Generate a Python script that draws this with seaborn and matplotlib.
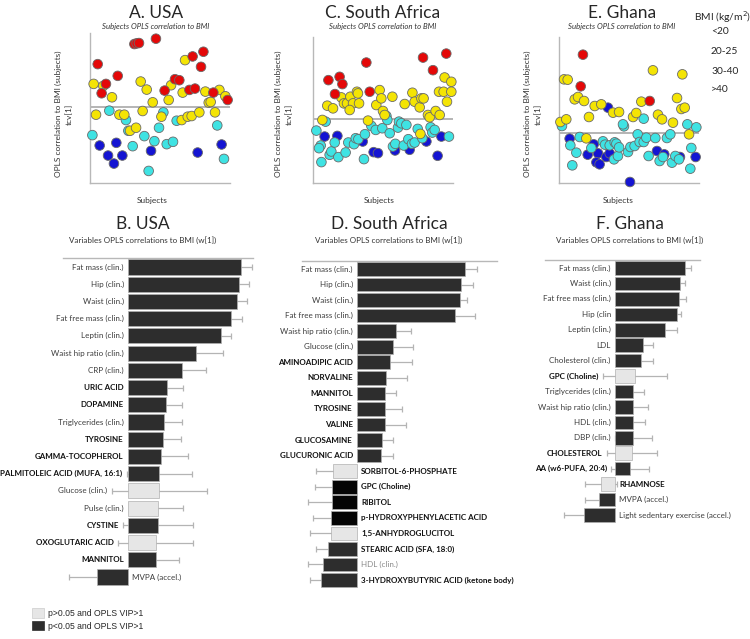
import matplotlib
matplotlib.use("Agg")
import matplotlib.pyplot as plt
from matplotlib.patches import Patch
import pandas as pd
import seaborn as sns

W, H = 750, 639

# ---- top panels: subject scores (x = subject position, y = tcv[1]) ----
usa_red_x = [5.5, 8.3, 11.4, 19.8, 31.7, 33.3, 35.0, 47.1, 53.3, 60.7, 63.8, 71.0, 73.3, 75.0, 79.3, 81.0, 88.1, 98.3]
usa_red_y = [1.29, 0.42, 0.70, 0.94, 1.89, 1.91, 1.92, 2.05, 0.50, 0.84, 0.81, 0.52, 1.52, 0.56, 1.21, 1.66, 0.44, 0.22]
usa_yel_x = [2.6, 4.3, 9.5, 15.7, 21.0, 24.5, 28.6, 32.9, 36.2, 37.6, 40.5, 44.8, 51.0, 56.2, 57.9, 65.5, 66.2, 67.9,
             69.8, 72.6, 78.1, 82.4, 84.8, 86.2, 89.3, 92.4, 96.7]
usa_yel_y = [0.70, -0.22, 0.64, 0.30, -0.22, -0.22, -0.70, -0.61, 0.77, -0.11, 0.53, 0.15, -0.28, 0.22, 0.66, -0.38,
             0.44, 1.41, -0.28, -0.26, -0.15, 0.47, 0.14, 0.16, -0.15, 0.52, 0.33]
usa_cyan_x = [1.7, 13.8, 25.7, 27.4, 30.5, 38.8, 41.9, 46.0, 49.3, 52.4, 54.8, 59.3, 61.9, 90.9, 95.7]
usa_cyan_y = [-0.83, -0.10, -0.38, -0.70, -1.16, -0.86, -1.90, -1.01, -0.61, -0.15, -1.10, -1.03, -0.40, -0.54, -1.54]
usa_blue_x = [6.9, 12.9, 17.1, 18.8, 23.1, 43.6, 76.9, 94.0]
usa_blue_y = [-1.14, -1.44, -1.68, -1.06, -1.44, -1.30, -1.35, -1.11]

sa_red_x = [11.0, 15.7, 19.0, 21.0, 38.1, 40.5, 78.6, 85.7, 95.2]
sa_red_y = [1.17, 0.75, 1.27, 1.05, 1.70, 0.82, 1.85, 1.47, 1.97]
sa_yel_x = [6.7, 10.2, 14.3, 20.2, 22.1, 24.3, 26.7, 28.6, 26.2, 31.4, 32.9, 32.1, 39.3, 45.2, 47.6, 48.8, 50.0, 51.2,
            56.7, 65.5, 71.0, 72.6, 76.2, 77.4, 79.0, 82.1, 83.3, 87.6, 90.5, 90.0, 93.3, 94.0, 95.7, 98.8, 98.8, 76.7]
sa_yel_y = [-0.03, 0.40, 0.32, 0.65, 0.47, 0.47, 0.67, 0.47, 0.27, 0.82, 0.47, 0.77, -0.05, 0.42, 0.87, 0.62, 0.24,
            0.12, 0.67, 0.45, 0.79, 0.52, 0.35, 0.62, 0.62, 0.12, 0.05, 0.24, 0.12, 0.82, 0.82, 1.25, 0.52, 1.12,
            0.82, -0.45]
sa_cyan_x = [2.4, 5.5, 4.3, 6.0, 9.0, 11.9, 13.1, 15.5, 18.1, 23.3, 25.2, 29.3, 30.5, 32.4, 37.1, 36.4, 41.7, 44.8,
             49.5, 52.4, 53.1, 54.8, 57.1, 58.8, 60.7, 61.4, 63.1, 64.8, 66.7, 68.1, 70.7, 72.6, 74.8, 78.1, 84.0,
             85.2, 86.9, 97.1]
sa_cyan_y = [-0.35, -0.80, -0.88, -1.30, -0.08, -1.08, -0.98, -0.71, -1.15, -1.01, -0.71, -0.76, -0.58, -0.61, -0.46,
             -1.21, -0.21, -0.33, -0.28, 0.09, -0.03, -0.43, -0.83, -0.75, -0.26, -0.08, -0.13, -0.80, -0.18, -0.61,
             -0.75, -0.71, -0.30, -0.58, -0.25, -0.41, -0.33, -0.53]
sa_blue_x = [8.3, 17.4, 35.5, 43.3, 46.4, 58.6, 69.0, 81.0, 89.0, 91.7]
sa_blue_y = [-0.53, -0.51, -0.68, -1.00, -1.03, -0.95, -0.93, -0.68, -1.11, -0.53]

gh_red_x = [17.1, 15.5, 64.8]
gh_red_y = [2.35, 1.40, 0.96]
gh_yel_x = [3.6, 6.2, 1.0, 5.2, 11.2, 13.6, 17.9, 21.4, 25.5, 30.2, 38.6, 42.9, 52.9, 55.2, 58.8, 67.1, 70.7, 73.6,
            81.4, 84.3, 87.4, 88.1, 89.8, 92.9, 19.5]
gh_yel_y = [1.61, 1.60, 0.33, 0.41, 1.01, 1.08, 0.96, 0.48, 0.81, 0.86, 0.61, 0.63, 0.48, 0.60, 0.94, 1.88, 0.55,
            0.41, 0.31, 1.05, 0.72, 1.76, 0.76, -0.04, -0.16]
gh_cyan_x = [2.1, 8.1, 12.4, 14.8, 9.5, 23.1, 31.4, 32.9, 36.2, 39.8, 41.0, 39.3, 42.1, 42.9, 46.4, 45.7, 49.3, 51.0,
             54.0, 56.2, 57.6, 60.5, 62.4, 60.5, 64.0, 68.8, 71.9, 74.3, 77.1, 79.5, 80.7, 83.1, 85.7, 91.7, 94.5,
             93.8, 98.1]
gh_cyan_y = [0.21, -0.37, -0.59, -0.12, -0.97, -0.45, -0.25, -0.35, -0.37, -0.28, -0.32, -0.79, -0.69, -0.43, 0.20,
             0.26, -0.57, -0.42, -0.39, -0.04, -0.27, -0.27, -0.14, 0.43, -0.69, -0.15, -0.84, -0.72, -0.15, -0.04,
             -0.89, -0.69, -0.79, 0.26, -0.45, -1.07, 0.17]
gh_blue_x = [7.6, 24.8, 20.5, 27.9, 26.7, 29.0, 33.8, 36.2, 35.0, 50.7, 70.0, 75.2, 86.4, 97.6]
gh_blue_y = [-0.17, -0.34, -0.65, -0.61, -0.88, -0.94, -0.72, -0.61, 0.76, -1.47, -0.54, -0.64, -0.72, -0.72]

bmi_levels = ["<20", "20-25", "30-40", ">40"]
bmi_colors = {"<20": "#1414d2", "20-25": "#3fe3e3", "30-40": "#f4e404", ">40": "#e40808"}

# ---- bottom panels: variable loadings w[1] with CI ----
usa_vars = ["Fat mass (clin.)", "Hip (clin.)", "Waist (clin.)", "Fat free mass (clin.)", "Leptin (clin.)",
            "Waist hip ratio (clin.)", "CRP (clin.)", "URIC ACID", "DOPAMINE", "Triglycerides (clin.)", "TYROSINE",
            "GAMMA-TOCOPHEROL", "PALMITOLEIC ACID (MUFA, 16:1)", "Glucose (clin.)", "Pulse (clin.)", "CYSTINE",
            "OXOGLUTARIC ACID", "MANNITOL", "MVPA (accel.)"]
usa_w = [0.90, 0.89, 0.87, 0.82, 0.74, 0.54, 0.43, 0.31, 0.30, 0.29, 0.28, 0.26, 0.25, 0.25, 0.24, 0.24, 0.22, 0.22, -0.25]
usa_ci = [0.09, 0.08, 0.08, 0.09, 0.08, 0.22, 0.19, 0.13, 0.13, 0.14, 0.14, 0.22, 0.26, 0.38, 0.20, 0.28, 0.30, 0.19, 0.22]
usa_sig = ["s"] * 13 + ["ns", "ns", "s", "ns", "s", "s"]

sa_vars = ["Fat mass (clin.)", "Hip (clin.)", "Waist (clin.)", "Fat free mass (clin.)", "Waist hip ratio (clin.)",
           "Glucose (clin.)", "AMINOADIPIC ACID", "NORVALINE", "MANNITOL", "TYROSINE", "VALINE", "GLUCOSAMINE",
           "GLUCURONIC ACID", "SORBITOL-6-PHOSPHATE", "GPC (Choline)", "RIBITOL", "p-HYDROXYPHENYLACETIC ACID",
           "1,5-ANHYDROGLUCITOL", "STEARIC ACID (SFA, 18:0)", "HDL (clin.)", "3-HYDROXYBUTYRIC ACID (ketone body)"]
sa_w = [0.86, 0.83, 0.82, 0.78, 0.31, 0.29, 0.26, 0.23, 0.22, 0.22, 0.22, 0.20, 0.19,
        -0.19, -0.20, -0.20, -0.21, -0.21, -0.23, -0.27, -0.29]
sa_ci = [0.10, 0.10, 0.06, 0.16, 0.12, 0.16, 0.18, 0.17, 0.09, 0.14, 0.17, 0.09, 0.10,
         0.14, 0.14, 0.19, 0.14, 0.17, 0.10, 0.12, 0.09]
sa_sig = ["s"] * 13 + ["ns", "k", "k", "k", "ns", "s", "s", "s"]

gh_vars = ["Fat mass (clin.)", "Waist (clin.)", "Fat free mass (clin.)", "Hip (clin", "Leptin (clin.)", "LDL",
           "Cholesterol (clin.)", "GPC (Choline)", "Triglycerides (clin.)", "Waist hip ratio (clin.)", "HDL (clin.)",
           "DBP (clin.)", "CHOLESTEROL", "AA (w6-PUFA, 20:4)", "RHAMNOSE", "MVPA (accel.)",
           "Light sedentary exercise (accel.)"]
gh_w = [0.88, 0.81, 0.80, 0.77, 0.63, 0.35, 0.32, 0.25, 0.23, 0.23, 0.23, 0.23, 0.21, 0.19, -0.18, -0.20, -0.39]
gh_ci = [0.07, 0.07, 0.09, 0.05, 0.15, 0.13, 0.16, 0.40, 0.13, 0.18, 0.14, 0.23, 0.31, 0.24, 0.20, 0.18, 0.25]
gh_sig = ["s"] * 7 + ["ns"] + ["s"] * 4 + ["ns", "s", "ns", "s", "s"]

metabolites = {"URIC ACID", "DOPAMINE", "TYROSINE", "GAMMA-TOCOPHEROL", "PALMITOLEIC ACID (MUFA, 16:1)", "CYSTINE",
               "OXOGLUTARIC ACID", "MANNITOL", "AMINOADIPIC ACID", "NORVALINE", "VALINE", "GLUCOSAMINE",
               "GLUCURONIC ACID", "SORBITOL-6-PHOSPHATE", "GPC (Choline)", "RIBITOL", "p-HYDROXYPHENYLACETIC ACID",
               "1,5-ANHYDROGLUCITOL", "STEARIC ACID (SFA, 18:0)", "3-HYDROXYBUTYRIC ACID (ketone body)",
               "CHOLESTEROL", "AA (w6-PUFA, 20:4)", "RHAMNOSE"}
sig_colors = {"s": "#2d2d2d", "ns": "#e6e6e6", "k": "#050505"}

sns.set_style("white")
plt.rcParams["font.family"] = ["Lato", "DejaVu Sans"]

fig = plt.figure(figsize=(W / 100, H / 100), dpi=100)


def rect(l, t, r, b):
    return [l / W, 1 - b / H, (r - l) / W, (b - t) / H]


def ftext(x, y, s, **kw):
    fig.text(x / W, 1 - y / H, s, **kw)


def scatter_panel(box, groups, ylim, title, cx, ylab_x):
    ax = fig.add_axes(rect(*box))
    frames = [pd.DataFrame({"subject": xs, "score": ys, "bmi": lvl}) for lvl, xs, ys in groups]
    df = pd.concat(frames, ignore_index=True)
    ax.axhline(0, color="#a8a8a8", lw=1.2, zorder=0)
    sns.scatterplot(data=df, x="subject", y="score", hue="bmi", hue_order=bmi_levels, palette=bmi_colors,
                    s=48, edgecolor="#6a6a6a", linewidth=0.6, legend=False, clip_on=False, ax=ax, zorder=3)
    ax.set_xlim(0, 100)
    ax.set_ylim(*ylim)
    ax.set_xticks([])
    ax.set_yticks([])
    ax.set_xlabel("")
    ax.set_ylabel("")
    for s in ["top", "right"]:
        ax.spines[s].set_visible(False)
    for s in ["left", "bottom"]:
        ax.spines[s].set_color("#b8b8b8")
        ax.spines[s].set_linewidth(1.0)
    ftext(cx, 13, title, ha="center", va="center", fontsize=12.5)
    ftext(cx, 27, "Subjects OPLS correlation to BMI", ha="center", va="center", fontsize=5.6,
          style="italic", color="#333333")
    ftext(ylab_x, 114, "OPLS correlation to BMI (subjects)\ntcv[1]", ha="center", va="center",
          rotation=90, fontsize=6.0, color="#333333", linespacing=1.5)
    ftext(cx - 4, 200, "Subjects", ha="center", va="center", fontsize=6.0, color="#333333")
    return ax


def bar_panel(box, labels, w, ci, sig, xlim, title, cx):
    ax = fig.add_axes(rect(*box))
    df = pd.DataFrame({"variable": labels, "w": w, "sig": sig})
    ax.errorbar(w, list(range(len(labels))), xerr=ci, fmt="none", ecolor="#b4b4b4",
                elinewidth=0.9, capsize=2.2, capthick=0.9, zorder=1)
    sns.barplot(data=df, y="variable", x="w", hue="variable", order=labels, hue_order=labels,
                palette=[sig_colors[k] for k in sig], orient="h", width=0.88, edgecolor="#b0b0b0",
                linewidth=0.5, legend=False, ax=ax, zorder=2)
    ax.set_xlim(*xlim)
    ax.set_ylim(len(labels) - 0.5, -0.5)
    ax.set_xticks([])
    ax.set_yticks([])
    ax.set_xlabel("")
    ax.set_ylabel("")
    for s in ["left", "right", "bottom"]:
        ax.spines[s].set_visible(False)
    ax.spines["top"].set_color("#b8b8b8")
    ax.spines["top"].set_linewidth(1.0)
    for i, (lab, v, e) in enumerate(zip(labels, w, ci)):
        bold = lab in metabolites
        color = "#111111" if bold else ("#8a8a8a" if lab == "HDL (clin.)" and v < 0 else "#3c3c3c")
        if v > 0:
            ax.annotate(lab, (min(0, v - e), i), xytext=(-3, 0), textcoords="offset points", ha="right",
                        va="center", fontsize=5.8, color=color, fontweight="bold" if bold else "normal",
                        annotation_clip=False)
        else:
            ax.annotate(lab, (0, i), xytext=(3, 0), textcoords="offset points", ha="left",
                        va="center", fontsize=5.8, color=color, fontweight="bold" if bold else "normal",
                        annotation_clip=False)
    ftext(cx, 224, title, ha="center", va="center", fontsize=12.5)
    ftext(cx, 240, "Variables OPLS correlations to BMI (w[1])", ha="center", va="center", fontsize=5.8,
          color="#333333")
    return ax


scatter_panel((90, 33, 230, 183),
              [("<20", usa_blue_x, usa_blue_y), ("20-25", usa_cyan_x, usa_cyan_y),
               ("30-40", usa_yel_x, usa_yel_y), (">40", usa_red_x, usa_red_y)],
              (-2.26, 2.22), "A. USA", 156, 64)
scatter_panel((313, 37, 453, 183),
              [("<20", sa_blue_x, sa_blue_y), ("20-25", sa_cyan_x, sa_cyan_y),
               ("30-40", sa_yel_x, sa_yel_y), (">40", sa_red_x, sa_red_y)],
              (-1.93, 2.47), "C. South Africa", 383, 284)
scatter_panel((559, 37, 699, 183),
              [("<20", gh_blue_x, gh_blue_y), ("20-25", gh_cyan_x, gh_cyan_y),
               ("30-40", gh_yel_x, gh_yel_y), (">40", gh_red_x, gh_red_y)],
              (-1.50, 2.88), "E. Ghana", 622, 533)

bar_panel((63, 258.4, 253, 585.6), usa_vars, usa_w, usa_ci, usa_sig, (-0.52, 1.0), "B. USA", 143)
bar_panel((302, 261.2, 497, 587.8), sa_vars, sa_w, sa_ci, sa_sig, (-0.44, 1.12), "D. South Africa", 389)
bar_panel((545, 260.3, 700, 522.7), gh_vars, gh_w, gh_ci, gh_sig, (-0.875, 1.0625), "F. Ghana", 630)

# BMI key (text only, as in the source)
ftext(694, 17, "BMI (kg/m$^2$)", ha="left", va="center", fontsize=7.4)
for lvl, y in zip(bmi_levels, [32, 51, 71, 89]):
    ftext(711, y, lvl, ha="left", va="center", fontsize=7.4)

handles = [Patch(facecolor="#e6e6e6", edgecolor="#cccccc", linewidth=0.5),
           Patch(facecolor="#2d2d2d", edgecolor="#2d2d2d", linewidth=0.5)]
fig.legend(handles, ["p>0.05 and OPLS VIP>1", "p<0.05 and OPLS VIP>1"], loc="upper left",
           bbox_to_anchor=(29 / W, 1 - 605 / H), frameon=False, handlelength=1.3, handleheight=1.3,
           handletextpad=0.5, labelspacing=0.35, borderaxespad=0,
           prop={"family": "Liberation Sans", "size": 6.2})

fig.savefig("out.png", dpi=100)
